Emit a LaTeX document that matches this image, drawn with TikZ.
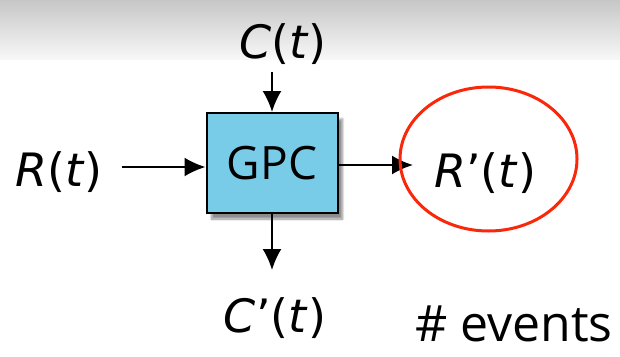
\documentclass[tikz,border=0pt]{standalone}
\usepackage{fontspec}
\setmainfont{Open Sans}
\newfontfamily\labelfont{DejaVu Sans}
\usepackage{tikz}
\usetikzlibrary{positioning}
\usetikzlibrary{arrows.meta}
\usetikzlibrary{shadows.blur}
\definecolor{boxblue}{RGB}{120,204,232}
\definecolor{ringred}{RGB}{250,40,10}

\begin{document}
\begin{tikzpicture}[x=1pt,y=-1pt,>={Latex[length=21pt,width=19pt]},
  flow/.style={->,line width=2pt},
  lbl/.style={inner sep=0pt,anchor=base,font=\labelfont\fontsize{46}{56}\selectfont}]

\useasboundingbox (0,0) rectangle (620,356);
\shade[top color=black!22,bottom color=black!3] (0,0) rectangle (620,59);

\node[draw,line width=2pt,fill=boxblue,minimum width=131pt,minimum height=100pt,
  blur shadow={shadow xshift=5pt,shadow yshift=-6pt,shadow blur steps=10,shadow opacity=45},
  font=\fontsize{46}{56}\selectfont] (gpc) at (272,163) {GPC};

\node[lbl] (cin) at (283,58) {\textit{C}(\textit{t})};
\node[lbl] (rin) at (59,186) {\textit{R}(\textit{t})};
\node[lbl] (rout) at (485,187) {\textit{R}’(\textit{t})};
\node[lbl] (cout) at (275,332) {\textit{C}’(\textit{t})};
\node[inner sep=0pt,anchor=base,font=\fontsize{50}{56}\selectfont] (ev) at (514,341) {\# events};

% free ends of the connectors
\coordinate (cstart) at (272,72);
\coordinate (rstart) at (122,167);
\coordinate (rtip) at (413,165);
\coordinate (ctip) at (272,270);

\draw[flow] (cstart) -- (gpc.north);
\draw[flow] (rstart) -- (rstart -| gpc.west);
\draw[flow] (gpc.east |- rtip) -- (rtip);
\draw[flow] (gpc.south) -- (ctip);

\draw[ringred,line width=3pt] (488.5,159) ellipse [x radius=88.5,y radius=72];
\end{tikzpicture}
\end{document}
